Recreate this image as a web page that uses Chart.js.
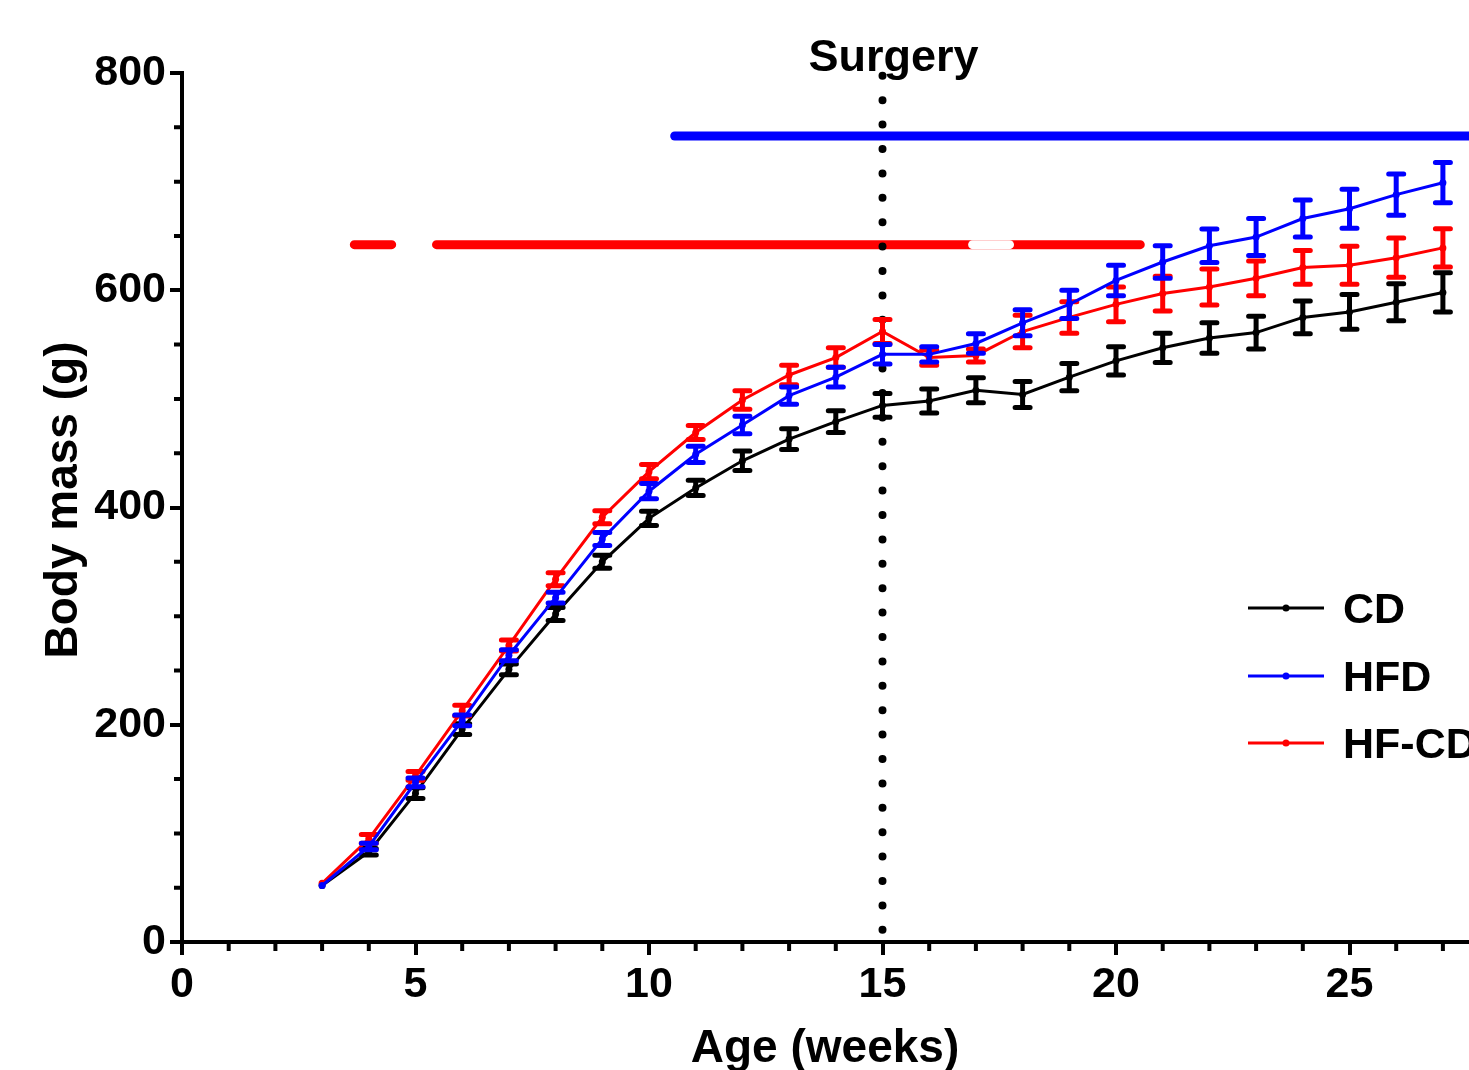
<!DOCTYPE html>
<html lang="en">
<head>
    <meta charset="UTF-8">
    <title>Body mass by age</title>
    <script src="https://cdn.jsdelivr.net/npm/chart.js"></script>
    <style>
        html, body { margin: 0; padding: 0; background: #fff; overflow: hidden; }
        .wrap { width: 1469px; height: 1070px; overflow: hidden; }
        canvas { display: block; }
    </style>
</head>
<body>
    <div class="wrap">
        <canvas id="massChart" width="1600" height="1070"></canvas>
    </div>

    <script>
        // Age in weeks
        const weeks = [3, 4, 5, 6, 7, 8, 9, 10, 11, 12, 13, 14, 15, 16, 17, 18, 19, 20, 21, 22, 23, 24, 25, 26, 27];

        // Mean body mass (g) and SEM per group
        const cdMass   = [52, 83, 137, 196, 251, 302, 350, 390, 418, 443, 463, 479, 494, 498, 508, 504, 520, 535, 547, 556, 561, 575, 580, 589, 598];
        const cdErr    = [0, 3, 5, 5, 5, 6, 6, 6.5, 7, 9, 9.5, 10, 11, 11, 11.5, 12, 12.5, 13, 13.5, 14, 15, 15, 16, 17, 18];
        const hfdMass  = [52, 88, 147, 204, 264, 317, 371, 415, 449, 476, 503, 520, 541, 541, 551, 570, 587, 609, 626, 641, 649, 666, 675, 688, 699];
        const hfdErr   = [0, 3, 4, 5, 5, 5, 6, 7, 7.5, 8, 8, 9, 9, 7, 9, 12, 13, 14, 15, 15.5, 17, 17, 18, 19, 18.5];
        const hfcdMass = [54, 95, 153, 213, 273, 334, 391, 433, 469, 499, 522, 538, 562, 538, 540, 562, 575, 587, 597, 603, 611, 621, 623, 630, 639];
        const hfcdErr  = [0, 4, 4, 5, 5, 6, 6, 6.5, 6.5, 8.5, 9, 9, 11, 7, 6, 15, 14.5, 16, 16, 16.5, 16, 15.5, 17.5, 18, 17.7];

        // Diet period bars (weeks) and the mass level they are drawn at
        const hfdBarStart = [10.55];
        const hfdBarEnd = [30];
        const hfdBarLevel = 742;
        const hfcdBarStart = [3.69, 5.45];
        const hfcdBarEnd = [4.49, 20.52];
        const hfcdBarLevel = 642;
        const hfcdBreak = [16.93, 17.72];

        const surgeryWeek = 15;

        // Axis ticks
        const xMajorTicks = [0, 5, 10, 15, 20, 25];
        const yMajorTicks = [0, 200, 400, 600, 800];

        const FONT = '"Liberation Sans", Arial, sans-serif';

        const toPoints = (ys) => weeks.map((w, i) => ({ x: w, y: ys[i] }));

        function barPoints(starts, ends, level) {
            const pts = [];
            starts.forEach((s, i) => {
                if (i > 0) pts.push({ x: (ends[i - 1] + s) / 2, y: null });
                pts.push({ x: s, y: level }, { x: ends[i], y: level });
            });
            return pts;
        }

        const errorBars = {
            id: 'errorBars',
            afterDatasetDraw(chart, args) {
                const ds = chart.data.datasets[args.index];
                if (!ds.err) return;
                const { ctx, scales: { x, y } } = chart;
                ctx.save();
                ctx.strokeStyle = ds.borderColor;
                ctx.lineWidth = 5;
                ctx.lineCap = 'round';
                ds.data.forEach((p, i) => {
                    const e = ds.err[i];
                    if (!e) return;
                    const px = x.getPixelForValue(p.x);
                    const top = y.getPixelForValue(p.y + e);
                    const bot = y.getPixelForValue(p.y - e);
                    ctx.beginPath();
                    ctx.moveTo(px, top); ctx.lineTo(px, bot);
                    ctx.moveTo(px - 7.5, top); ctx.lineTo(px + 7.5, top);
                    ctx.moveTo(px - 7.5, bot); ctx.lineTo(px + 7.5, bot);
                    ctx.stroke();
                });
                ctx.restore();
            }
        };

        const extras = {
            id: 'extras',
            afterDraw(chart) {
                const { ctx, scales: { x, y } } = chart;
                ctx.save();
                ctx.strokeStyle = '#000';
                ctx.lineWidth = 4;

                // minor ticks
                ctx.beginPath();
                for (let v = 50; v < 800; v += 50) {
                    if (v % 200 === 0) continue;
                    const py = y.getPixelForValue(v);
                    ctx.moveTo(x.left - 8, py); ctx.lineTo(x.left, py);
                }
                for (let w = 1; w < 30; w++) {
                    if (w % 5 === 0) continue;
                    const px = x.getPixelForValue(w);
                    ctx.moveTo(px, y.bottom); ctx.lineTo(px, y.bottom + 9);
                }
                ctx.stroke();

                ctx.fillStyle = '#000';
                ctx.textAlign = 'center';
                ctx.textBaseline = 'alphabetic';

                // axis titles
                ctx.font = 'bold 46px ' + FONT;
                ctx.fillText('Age (weeks)', 825, 1062);
                ctx.save();
                ctx.translate(77, 500);
                ctx.rotate(-Math.PI / 2);
                ctx.fillText('Body mass (g)', 0, 0);
                ctx.restore();

                // surgery label
                ctx.font = 'bold 45px ' + FONT;
                ctx.fillText('Surgery', x.getPixelForValue(surgeryWeek) + 11, 71);

                // legend
                const rows = [608, 676, 743];
                [0, 1, 2].forEach((di, r) => {
                    const ds = chart.data.datasets[di];
                    const ly = rows[r];
                    ctx.strokeStyle = ds.borderColor;
                    ctx.fillStyle = ds.borderColor;
                    ctx.lineWidth = 3;
                    ctx.beginPath();
                    ctx.moveTo(1248, ly); ctx.lineTo(1324, ly);
                    ctx.stroke();
                    ctx.beginPath();
                    ctx.arc(1286, ly, 3.5, 0, Math.PI * 2);
                    ctx.fill();
                    ctx.fillStyle = '#000';
                    ctx.font = 'bold 43px ' + FONT;
                    ctx.textAlign = 'left';
                    ctx.fillText(ds.label, 1343, ly + 15);
                });
                ctx.restore();
            }
        };

        const seriesStyle = (color) => ({
            borderColor: color,
            backgroundColor: color,
            borderWidth: 3,
            pointRadius: 3.5,
            pointHoverRadius: 3.5,
            pointBackgroundColor: color,
            pointBorderWidth: 0,
            tension: 0,
            clip: false
        });

        const barStyle = (color) => ({
            borderColor: color,
            backgroundColor: color,
            borderWidth: 9,
            borderCapStyle: 'round',
            pointRadius: 0,
            spanGaps: false,
            clip: false
        });

        const ctx = document.getElementById('massChart').getContext('2d');
        new Chart(ctx, {
            type: 'line',
            data: {
                datasets: [
                    Object.assign({ label: 'CD', data: toPoints(cdMass), err: cdErr, order: 3 }, seriesStyle('#000000')),
                    Object.assign({ label: 'HFD', data: toPoints(hfdMass), err: hfdErr, order: 1 }, seriesStyle('#0000ff')),
                    Object.assign({ label: 'HF-CD', data: toPoints(hfcdMass), err: hfcdErr, order: 2 }, seriesStyle('#ff0000')),
                    Object.assign({ label: 'HFD period', data: barPoints(hfdBarStart, hfdBarEnd, hfdBarLevel), order: 12 }, barStyle('#0000ff')),
                    Object.assign({ label: 'HF-CD period', data: barPoints(hfcdBarStart, hfcdBarEnd, hfcdBarLevel), order: 12 }, barStyle('#ff0000')),
                    Object.assign({ label: 'break', data: barPoints([hfcdBreak[0]], [hfcdBreak[1]], hfcdBarLevel), order: 11 }, barStyle('#ffffff')),
                    {
                        label: 'Surgery',
                        data: [{ x: surgeryWeek, y: 0 }, { x: surgeryWeek, y: 800 }],
                        borderColor: '#000',
                        borderWidth: 8,
                        borderCapStyle: 'round',
                        borderDash: [0, 24.4],
                        borderDashOffset: 12.2,
                        pointRadius: 0,
                        clip: false,
                        order: 10
                    }
                ]
            },
            options: {
                responsive: false,
                animation: false,
                events: [],
                layout: { padding: { top: 73, right: 17, left: 0, bottom: 0 } },
                plugins: {
                    legend: { display: false },
                    tooltip: { enabled: false }
                },
                scales: {
                    x: {
                        type: 'linear',
                        min: 0,
                        max: 30,
                        afterFit: (scale) => { scale.height = 128; },
                        afterBuildTicks: (scale) => { scale.ticks = xMajorTicks.map(v => ({ value: v })); },
                        border: { display: true, color: '#000', width: 4 },
                        grid: { drawOnChartArea: false, drawTicks: true, tickLength: 13, color: '#000', lineWidth: 4 },
                        ticks: {
                            color: '#000',
                            padding: 4,
                            maxRotation: 0,
                            autoSkip: false,
                            font: { family: FONT, size: 43, weight: 'bold' }
                        }
                    },
                    y: {
                        min: 0,
                        max: 800,
                        afterFit: (scale) => { scale.width = 182; },
                        afterBuildTicks: (scale) => { scale.ticks = yMajorTicks.map(v => ({ value: v })); },
                        border: { display: true, color: '#000', width: 4 },
                        grid: { drawOnChartArea: false, drawTicks: true, tickLength: 12, color: '#000', lineWidth: 4 },
                        ticks: {
                            color: '#000',
                            padding: 4,
                            font: { family: FONT, size: 43, weight: 'bold' }
                        }
                    }
                }
            },
            plugins: [errorBars, extras]
        });
    </script>
</body>
</html>
